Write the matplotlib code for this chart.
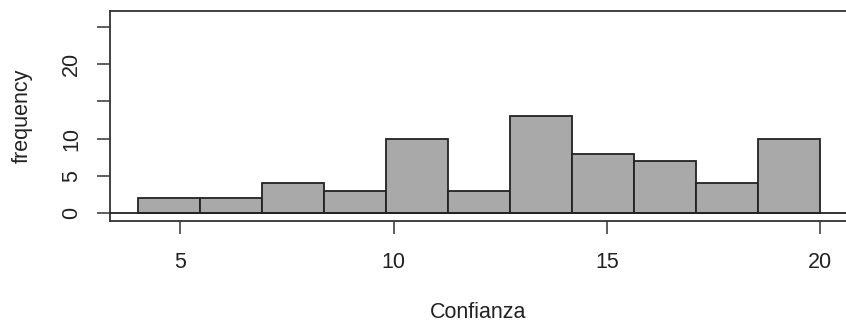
import matplotlib
matplotlib.use("Agg")
import matplotlib.pyplot as plt
import numpy as np

plt.rcParams['font.family'] = ['Liberation Sans', 'DejaVu Sans']

# data
bin_start = 4.0
bin_end = 20.0
counts = [2, 2, 4, 3, 10, 3, 13, 8, 7, 4, 10]
x_ticks = [5, 10, 15, 20]
y_ticks = [0, 5, 10, 15, 20, 25]
y_tick_labels = ["0", "5", "10", "", "20", ""]
x_label = "Confianza"
y_label = "frequency"

W, H = 846, 329
fig = plt.figure(figsize=(W / 100, H / 100), dpi=100)
left_px, right_px, top_px, bot_px = 110, 871, 10.7, 221
ax = fig.add_axes([left_px / W, 1 - bot_px / H, (right_px - left_px) / W, (bot_px - top_px) / H])

edges = np.linspace(bin_start, bin_end, len(counts) + 1)
ax.bar(edges[:-1], counts, width=np.diff(edges), align='edge',
       color='#a9a9a9', edgecolor='#222222', linewidth=1.3, zorder=2)
ax.axhline(0, color='#222222', linewidth=1.3, zorder=3)

ax.set_xlim(3.352, 3.352 + (right_px - left_px) / 42.65)
ax.set_ylim(-1.03, 27.12)

ax.set_xticks(x_ticks)
ax.set_xticklabels([str(v) for v in x_ticks])
ax.set_yticks(y_ticks)
ax.set_yticklabels(y_tick_labels, rotation=90, va='center')

for sp in ax.spines.values():
    sp.set_color('#333333')
    sp.set_linewidth(1.3)

ax.tick_params(axis='both', length=9.2, width=1.1, color='#333333',
               labelsize=15.5, labelcolor='#222222')
ax.tick_params(axis='x', pad=13)
ax.tick_params(axis='y', pad=11)

fig.text(478 / W, 1 - 313 / H, x_label, ha='center', va='center',
         fontsize=15.5, color='#222222')
fig.text(22 / W, 1 - 116 / H, y_label, ha='center', va='center',
         rotation=90, fontsize=15.5, color='#222222')

fig.savefig('out.png', dpi=100)
